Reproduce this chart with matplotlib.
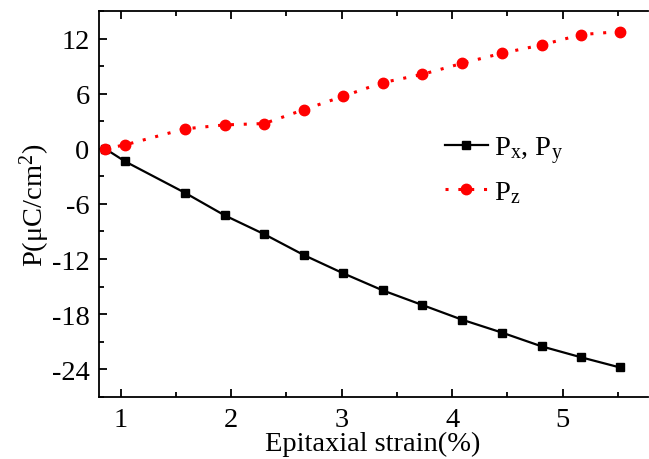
import matplotlib
matplotlib.use('Agg')
import matplotlib.pyplot as plt
from matplotlib.ticker import MultipleLocator

plt.rcParams['font.family'] = ['Liberation Serif', 'DejaVu Serif']
plt.rcParams['mathtext.fontset'] = 'custom'
plt.rcParams['mathtext.rm'] = 'Liberation Serif'
plt.rcParams['mathtext.default'] = 'regular'
plt.rcParams['axes.unicode_minus'] = False

# epitaxial strain (%)
strain = [0.86, 1.04, 1.58, 1.94, 2.30, 2.66, 3.01, 3.37, 3.73, 4.09, 4.45, 4.81, 5.17, 5.52]
# polarization (uC/cm^2)
p_xy = [0.0, -1.38, -4.78, -7.24, -9.3, -11.58, -13.53, -15.4, -17.0, -18.6, -20.0, -21.5, -22.7, -23.8]
p_z = [0.0, 0.43, 2.17, 2.6, 2.75, 4.27, 5.7, 7.2, 8.1, 9.3, 10.4, 11.3, 12.43, 12.76]
y_ticks = [-24, -18, -12, -6, 0, 6, 12]

FS = 20.5

fig = plt.figure(figsize=(6.49, 4.6), dpi=100)
ax = fig.add_axes([0.152, 0.135, 0.846, 0.839])

ax.plot(strain, p_xy, color='black', lw=1.6, marker='s', ms=6.3, label='P$_x$, P$_y$')
ax.plot(strain, p_z, color='red', lw=2.2, ls=(0, (1.0, 3.2)), marker='o', ms=7.5,
        label='P$_z$')

ax.set_xlim(0.8, 5.77)
ax.set_ylim(-27, 15)
ax.set_yticks(y_ticks)
ax.xaxis.set_major_locator(MultipleLocator(1))
ax.xaxis.set_minor_locator(MultipleLocator(0.5))
ax.yaxis.set_minor_locator(MultipleLocator(3))
ax.tick_params(which='both', direction='in', top=True, right=False, labelsize=FS, width=1.3)
ax.tick_params(which='major', length=6)
ax.tick_params(which='minor', length=3.5)
ax.tick_params(axis='x', which='major', pad=7)
ax.tick_params(axis='y', which='major', pad=6.5)
for s in ax.spines.values():
    s.set_linewidth(1.3)
ax.spines['right'].set_visible(False)

ax.set_xlabel('Epitaxial strain(%)', fontsize=FS, labelpad=-0.5)
ax.set_ylabel('P(μC/cm$^2$)', fontsize=FS, labelpad=0)

ax.legend(loc='upper left', bbox_to_anchor=(0.631, 0.68), frameon=False, fontsize=FS,
          handlelength=1.5, handletextpad=0.2, labelspacing=0.45,
          borderpad=0, borderaxespad=0)

fig.savefig('out.png', dpi=100)
